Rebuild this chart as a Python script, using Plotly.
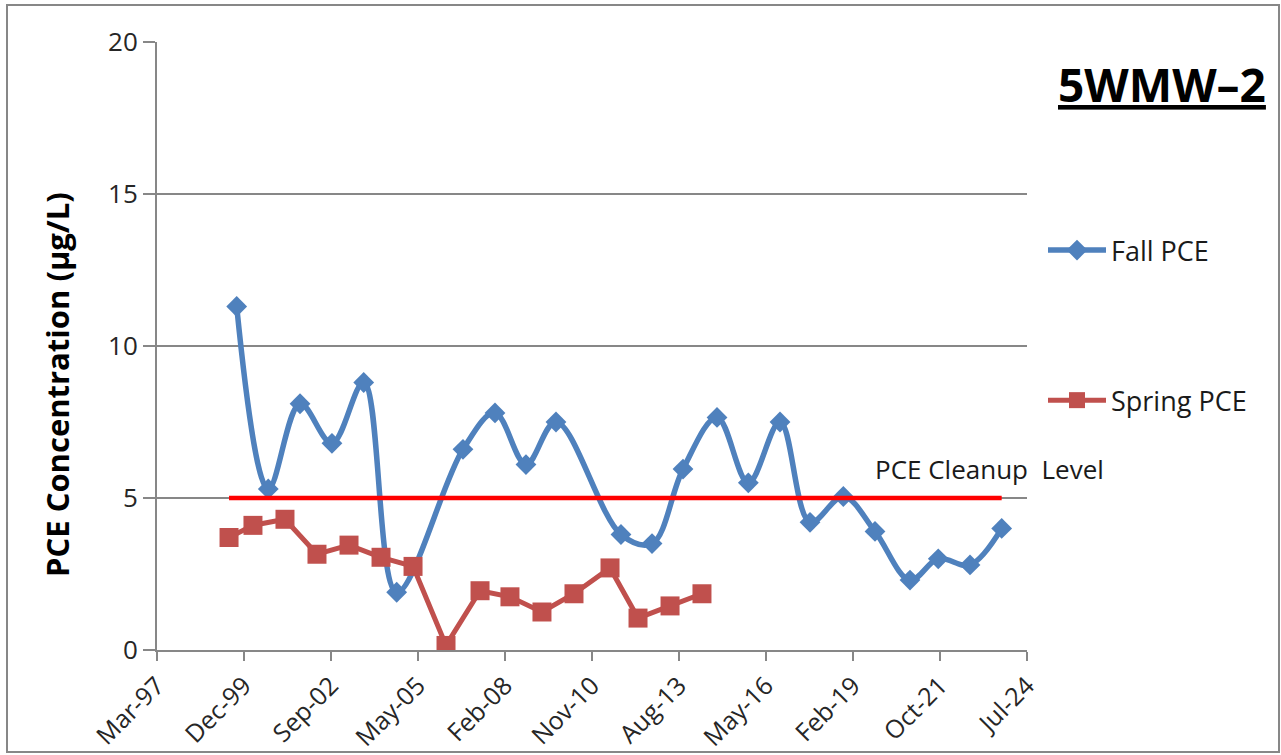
import plotly.graph_objects as go

# ---- data ----
fall_dates = ["1999-09-13", "2000-09-10", "2001-09-10", "2002-09-12", "2003-09-12",
              "2004-09-25", "2006-10-27", "2007-10-30", "2008-10-20", "2009-09-30",
              "2011-10-17", "2012-10-08", "2013-09-29", "2014-10-25", "2015-10-20",
              "2016-10-18", "2017-09-28", "2018-10-16", "2019-10-15", "2020-11-20",
              "2021-10-11", "2022-10-11", "2023-10-10"]
fall_pce = [11.3, 5.3, 8.1, 6.8, 8.8, 1.9, 6.6, 7.8, 6.1, 7.5,
            3.8, 3.5, 5.95, 7.65, 5.5, 7.5, 4.2, 5.05, 3.9, 2.3,
            3.0, 2.8, 4.0]

spring_dates = ["1999-06-17", "2000-03-18", "2001-03-21", "2002-03-24", "2003-03-27",
                "2004-03-29", "2005-04-01", "2006-04-15", "2007-05-11", "2008-04-19",
                "2009-04-22", "2010-04-25", "2011-06-13", "2012-04-30", "2013-05-03",
                "2014-05-05"]
spring_pce = [3.7, 4.1, 4.3, 3.15, 3.45, 3.05, 2.75, 0.15, 1.95, 1.75,
              1.25, 1.85, 2.7, 1.05, 1.45, 1.85]

cleanup_dates = ["1999-06-17", "2023-10-10"]
cleanup_level = [5, 5]

tick_dates = ["1997-03-11", "1999-12-06", "2002-09-01", "2005-05-28", "2008-02-22",
              "2010-11-18", "2013-08-14", "2016-05-10", "2019-02-04", "2021-10-31",
              "2024-07-27"]
tick_labels = ["Mar-97", "Dec-99", "Sep-02", "May-05", "Feb-08", "Nov-10",
               "Aug-13", "May-16", "Feb-19", "Oct-21", "Jul-24"]

FONT = "Open Sans"
BLUE = "#4F81BD"
RED = "#C0504D"
GRID = "#878787"

fig = go.Figure()
fig.add_trace(go.Scatter(
    x=fall_dates, y=fall_pce, name="Fall PCE", legendgroup="fall",
    mode="lines+markers",
    line=dict(color=BLUE, width=5.5, shape="spline", smoothing=1.0),
    marker=dict(symbol="diamond", size=16, color=BLUE),
))
fig.add_trace(go.Scatter(
    x=spring_dates, y=spring_pce, name="Spring PCE", legendgroup="spring",
    mode="lines+markers",
    line=dict(color=RED, width=5),
    marker=dict(symbol="square", size=19, color=RED),
))
fig.add_trace(go.Scatter(
    x=cleanup_dates, y=cleanup_level, name="PCE Cleanup Level",
    mode="lines", line=dict(color="#FF0000", width=4.5),
    showlegend=False, hoverinfo="skip",
))

fig.add_annotation(
    x="2019-09-20", y=5.95, xref="x", yref="y", text="PCE Cleanup  Level",
    showarrow=False, xanchor="left", yanchor="middle",
    font=dict(family=FONT, size=26, color="#1a1a1a"),
)

# title
fig.add_annotation(
    x=(1162 - 157) / 870, y=(650 - 84) / 608, xref="paper", yref="paper",
    text="<b><u>5WMW\u20132</u></b>", showarrow=False,
    xanchor="center", yanchor="middle",
    font=dict(family=FONT, size=46, color="#000000"),
)

# y axis title
fig.add_annotation(
    x=(57 - 157) / 870, y=(650 - 385) / 608, xref="paper", yref="paper",
    text="<b>PCE Concentration (\u00b5g/L)</b>", showarrow=False, textangle=-90,
    xanchor="center", yanchor="middle",
    font=dict(family=FONT, size=31, color="#000000"),
)

# outer chart border
fig.add_shape(
    type="rect", xref="paper", yref="paper",
    x0=(7 - 157) / 870, x1=(1279 - 157) / 870,
    y0=(650 - 752) / 608, y1=(650 - 5) / 608,
    line=dict(color=GRID, width=2), fillcolor="rgba(0,0,0,0)", layer="below",
)

fig.update_layout(
    width=1281, height=755,
    margin=dict(l=157, r=254, t=42, b=105, autoexpand=False),
    paper_bgcolor="white", plot_bgcolor="white",
    font=dict(family=FONT, size=26, color="#262626"),
    showlegend=True,
    legend=dict(
        x=(1043 - 157) / 870, y=(650 - 226) / 608, xanchor="left", yanchor="top",
        traceorder="grouped", tracegroupgap=112,
        font=dict(family=FONT, size=27, color="#1a1a1a"),
        bgcolor="rgba(0,0,0,0)", itemwidth=58,
    ),
    xaxis=dict(
        type="date", range=[tick_dates[0], tick_dates[-1]], automargin=False,
        tickmode="array", tickvals=tick_dates, ticktext=tick_labels,
        tickangle=-45, ticks="outside", ticklen=9, tickwidth=2, tickcolor=GRID,
        showline=True, linecolor=GRID, linewidth=2, showgrid=False, zeroline=False,
        tickfont=dict(family=FONT, size=25, color="#262626"),
    ),
    yaxis=dict(
        range=[0, 20], dtick=5, tick0=0, automargin=False,
        ticks="outside", ticklen=12, tickwidth=2, tickcolor=GRID,
        showline=True, linecolor=GRID, linewidth=2,
        showgrid=True, gridcolor=GRID, gridwidth=2, zeroline=False,
        tickfont=dict(family=FONT, size=26, color="#262626"),
    ),
)

fig.write_html("out.html", config={"displayModeBar": False},
               post_script="document.body.style.margin='0';")
